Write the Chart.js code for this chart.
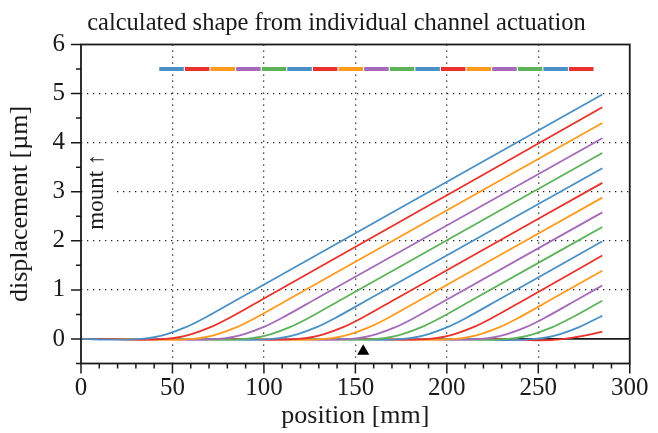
<!DOCTYPE html>
<html><head><meta charset="utf-8">
<script src="https://cdn.jsdelivr.net/npm/chart.js@4/dist/chart.umd.min.js"></script>
<style>html,body{margin:0;padding:0;background:#fff}#wrap{width:658px;height:433px}</style>
</head><body><div id="wrap"><canvas id="c" width="658" height="433"></canvas></div>
<script>
// ---- text ----
const titleText = 'calculated shape from individual channel actuation';
const xTitle = 'position [mm]';
const yTitle = 'displacement [µm]';
const mountLabel = 'mount ↑';
const mountAt = [12.1, 3.0];          // data position of the rotated "mount" note
const markerAt = [154.3, -0.25];      // black triangle

// ---- axes ----
const xRange = [0, 300];
const yRange = [-0.5, 6];
const xMajorLabels = [0, 50, 100, 150, 200, 250, 300];
const yMajorLabels = [0, 1, 2, 3, 4, 5, 6];
const xGridAt = [50, 100, 150, 200, 250];
const yGridAt = [1, 2, 3, 4, 5];

// ---- channel bar (top) ----
const channelEdges = [42.5, 56.5, 70.5, 84.5, 98.5, 112.5, 126.5, 140.5, 154.5, 168.5,
                      182.5, 196.5, 210.5, 224.5, 238.5, 252.5, 266.5, 280.5];
const channelBarLevel = 5.5;
const palette = ['#4a90c6', '#e8322b', '#ff9a1e', '#a56bb9', '#5cb35a'];

// ---- calculated shapes, one per channel: [position mm, displacement µm] ----
const ch01 = [[0,0],[19,-0.015],[33,0],[40,0.035],[47,0.1],[57,0.235],[67,0.418],[87,0.836],[285,4.98]];
const ch02 = [[0,0],[10.5,0],[32.5,-0.02],[46.5,0],[53.5,0.035],[60.5,0.1],[70.5,0.235],[80.5,0.418],[100.5,0.836],[285,4.72]];
const ch03 = [[0,0],[24.8,0],[46.8,-0.02],[60.8,0],[67.8,0.035],[74.8,0.1],[84.8,0.235],[94.8,0.418],[114.8,0.836],[285,4.40]];
const ch04 = [[0,0],[39.3,0],[61.3,-0.02],[75.3,0],[82.3,0.035],[89.3,0.1],[99.3,0.235],[109.3,0.418],[129.3,0.836],[285,4.09]];
const ch05 = [[0,0],[53.9,0],[75.9,-0.02],[89.9,0],[96.9,0.035],[103.9,0.1],[113.9,0.235],[123.9,0.418],[143.9,0.836],[285,3.79]];
const ch06 = [[0,0],[68.5,0],[90.5,-0.02],[104.5,0],[111.5,0.035],[118.5,0.1],[128.5,0.235],[138.5,0.418],[158.5,0.836],[285,3.48]];
const ch07 = [[0,0],[83,0],[105,-0.02],[119,0],[126,0.035],[133,0.1],[143,0.235],[153,0.418],[173,0.836],[285,3.18]];
const ch08 = [[0,0],[97.3,0],[119.3,-0.02],[133.3,0],[140.3,0.035],[147.3,0.1],[157.3,0.235],[167.3,0.418],[187.3,0.836],[285,2.88]];
const ch09 = [[0,0],[111.6,0],[133.6,-0.02],[147.6,0],[154.6,0.035],[161.6,0.1],[171.6,0.235],[181.6,0.418],[201.6,0.836],[285,2.58]];
const ch10 = [[0,0],[125.8,0],[147.8,-0.02],[161.8,0],[168.8,0.035],[175.8,0.1],[185.8,0.235],[195.8,0.418],[215.8,0.836],[285,2.28]];
const ch11 = [[0,0],[140,0],[162,-0.02],[176,0],[183,0.035],[190,0.1],[200,0.235],[210,0.418],[230,0.836],[285,1.99]];
const ch12 = [[0,0],[154.2,0],[176.2,-0.02],[190.2,0],[197.2,0.035],[204.2,0.1],[214.2,0.235],[224.2,0.418],[244.2,0.836],[285,1.70]];
const ch13 = [[0,0],[168.5,0],[190.5,-0.02],[204.5,0],[211.5,0.035],[218.5,0.1],[228.5,0.235],[238.5,0.418],[258.5,0.836],[285,1.39]];
const ch14 = [[0,0],[182.9,0],[204.9,-0.02],[218.9,0],[225.9,0.035],[232.9,0.1],[242.9,0.235],[252.9,0.418],[272.9,0.836],[285,1.09]];
const ch15 = [[0,0],[197.4,0],[219.4,-0.02],[233.4,0],[240.4,0.035],[247.4,0.1],[257.4,0.235],[267.4,0.418],[285,0.78]];
const ch16 = [[0,0],[212,0],[234,-0.025],[248,0],[255,0.035],[262,0.1],[272,0.235],[282,0.418],[285,0.47]];
const ch17 = [[0,0],[225,0],[251,-0.03],[263,-0.005],[271,0.04],[278,0.09],[285,0.15]];
const shapes = [ch01,ch02,ch03,ch04,ch05,ch06,ch07,ch08,ch09,ch10,ch11,ch12,ch13,ch14,ch15,ch16,ch17];

const SERIF = "'Liberation Serif','Times New Roman',serif";
const INK = '#1a1a1a';

const toXY = arr => arr.map(p => ({x: p[0], y: p[1]}));

const datasets = [];
// zero line
datasets.push({data: toXY([[xRange[0],0],[xRange[1],0]]), borderColor: INK, borderWidth: 1.8,
  pointRadius: 0, order: 100, tension: 0});
// curves (first channel drawn on top)
shapes.forEach((s, i) => datasets.push({
  data: toXY(s), borderColor: palette[i % palette.length], borderWidth: 1.8,
  pointRadius: 0, cubicInterpolationMode: 'monotone', order: 2 + i
}));
// channel bar segments
for (let i = 0; i < channelEdges.length - 1; i++) {
  datasets.push({data: toXY([[channelEdges[i] + 0.3, channelBarLevel],[channelEdges[i+1] - 0.3, channelBarLevel]]),
    borderColor: palette[i % palette.length], borderWidth: 4, borderCapStyle: 'butt',
    pointRadius: 0, order: 0, tension: 0});
}
// triangle marker
datasets.push({type: 'scatter', data: toXY([markerAt]), pointStyle: 'triangle', pointRadius: 7,
  backgroundColor: '#000', borderColor: '#000', borderWidth: 0, order: 0});

const mountPlugin = {
  id: 'mount',
  beforeDatasetsDraw(chart) {
    const {ctx, scales: {x, y}} = chart;
    const px = x.getPixelForValue(mountAt[0]), py = y.getPixelForValue(mountAt[1]);
    ctx.save();
    ctx.translate(px, py);
    ctx.rotate(-Math.PI / 2);
    ctx.font = '23px ' + SERIF;
    const w = ctx.measureText(mountLabel).width;
    ctx.fillStyle = '#fff';
    ctx.fillRect(-w/2 - 4, -19, w + 8, 30);
    ctx.fillStyle = INK;
    ctx.textAlign = 'center';
    ctx.textBaseline = 'alphabetic';
    ctx.fillText(mountLabel, 0, 0);
    ctx.restore();
  }
};

const framePlugin = {
  id: 'frame',
  afterDraw(chart) {
    const {ctx, chartArea: a, scales: {x, y}} = chart;
    ctx.save();
    ctx.strokeStyle = INK;
    ctx.lineWidth = 1.8;
    ctx.strokeRect(a.left, a.top, a.right - a.left, a.bottom - a.top);
    ctx.lineWidth = 1.5;
    ctx.beginPath();
    y.ticks.forEach(t => {
      const p = y.getPixelForValue(t.value);
      const len = yMajorLabels.includes(t.value) ? 10 : 5;
      ctx.moveTo(a.left - len, p); ctx.lineTo(a.left, p);
    });
    x.ticks.forEach(t => {
      const p = x.getPixelForValue(t.value);
      const len = xMajorLabels.includes(t.value) ? 10 : 5;
      ctx.moveTo(p, a.bottom); ctx.lineTo(p, a.bottom + len);
    });
    ctx.stroke();
    ctx.restore();
  }
};

new Chart(document.getElementById('c'), {
  type: 'line',
  data: {datasets},
  plugins: [mountPlugin, framePlugin],
  options: {
    responsive: false, animation: false, devicePixelRatio: 1,
    layout: {padding: {left: 35, right: 20, top: 0, bottom: 0}},
    plugins: {
      legend: {display: false}, tooltip: {enabled: false},
      title: {display: true, text: titleText, color: INK,
        font: {family: SERIF, size: 24.5, weight: 'normal'}, padding: {top: 9, bottom: 6.1}}
    },
    scales: {
      x: {type: 'linear', min: xRange[0], max: xRange[1],
        afterFit: s => { s.height = 69.5; },
        ticks: {stepSize: 10, autoSkip: false, maxRotation: 0, padding: 9.5, color: INK,
          font: {family: SERIF, size: 25},
          callback: v => xMajorLabels.includes(v) ? String(v) : ''},
        grid: {drawTicks: false, lineWidth: 1.3,
          color: c => (c.tick && xGridAt.includes(c.tick.value)) ? '#222' : 'rgba(0,0,0,0)'},
        border: {display: false, dash: [1.3, 4.7]},
        title: {display: true, text: xTitle, color: INK, font: {family: SERIF, size: 26},
          padding: {top: 0, bottom: 1.2}}
      },
      y: {type: 'linear', min: yRange[0], max: yRange[1],
        afterFit: s => { s.width = 46; },
        ticks: {stepSize: 0.5, autoSkip: false, padding: 16, color: INK,
          font: {family: SERIF, size: 25},
          callback: v => yMajorLabels.includes(v) ? String(v) : ''},
        grid: {drawTicks: false, lineWidth: 1.3,
          color: c => (c.tick && yGridAt.includes(c.tick.value)) ? '#222' : 'rgba(0,0,0,0)'},
        border: {display: false, dash: [1.3, 4.7]},
        title: {display: true, text: yTitle, color: INK, font: {family: SERIF, size: 26},
          padding: {top: -30, bottom: 0}}
      }
    }
  }
});
</script></body></html>
